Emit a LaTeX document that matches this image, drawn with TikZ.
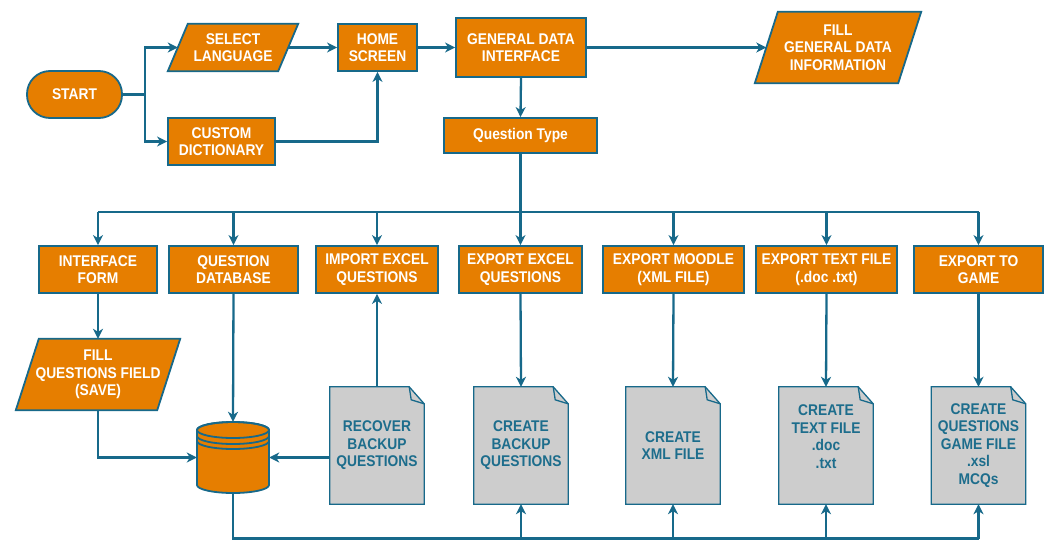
\documentclass[tikz,border=0pt]{standalone}
\usepackage{fontspec}
\setmainfont{Liberation Sans}[FakeStretch=0.89]
\usetikzlibrary{arrows.meta,calc,backgrounds}
\definecolor{orng}{HTML}{E67E00}
\definecolor{edge}{HTML}{17698A}
\definecolor{wire}{HTML}{17698A}
\definecolor{docgray}{HTML}{CDCDCD}
\definecolor{doctxt}{HTML}{1D6D8C}
\tikzset{
  lbl/.style={font=\bfseries\fontsize{15.5pt}{17.5pt}\selectfont, align=center, inner sep=0pt},
  box/.style={lbl, draw=edge, line width=1.8pt, fill=orng, text=white},
  term/.style={box, rounded corners=23pt},
  ptext/.style={lbl, text=white},
  pgramfill/.style={draw=edge, line width=1.8pt, fill=orng, line join=miter},
  doc/.style={lbl, text=doctxt, minimum width=94pt, minimum height=117pt},
  docfill/.style={draw=edge, line width=1.3pt, fill=docgray},
  cylfill/.style={draw=edge, line width=1.8pt, fill=orng},
  conn/.style={draw=wire, line width=2.3pt},
  arr/.style={conn, -{Stealth[length=10pt,width=10pt,inset=3pt]}}
}
\newcommand\pgramshape[2]{\filldraw[pgramfill] ($(#1.north west)+(#2,0)$) -- (#1.north east) -- ($(#1.south east)-(#2,0)$) -- (#1.south west) -- cycle;}
\newcommand\docshape[1]{%
  \filldraw[docfill] (#1.north west) -- ($(#1.north east)+(-15,0)$) -- ($(#1.north east)+(0,17)$) -- (#1.south east) -- (#1.south west) -- cycle;
  \draw[docfill, fill=none] ($(#1.north east)+(-15,0)$) -- ($(#1.north east)+(-13,13)$) -- ($(#1.north east)+(0,17)$);}
\begin{document}
\begin{tikzpicture}[x=1pt,y=-1pt]
\useasboundingbox (0,0) rectangle (1051,541);

% top part
\node[term, minimum width=95pt, minimum height=47pt] (start) at (74.5,94.5) {START};
\node[ptext, minimum width=130pt, minimum height=47pt] (sl) at (233,47.5) {SELECT\\LANGUAGE};
\node[box, minimum width=79pt, minimum height=47pt] (home) at (377.5,47.5) {HOME\\SCREEN};
\node[box, minimum width=107pt, minimum height=47pt] (cd) at (221.5,141.5) {CUSTOM\\DICTIONARY};
\node[box, minimum width=130pt, minimum height=59pt] (gdi) at (521,47.5) {GENERAL DATA\\INTERFACE};
\node[ptext, minimum width=166pt, minimum height=71pt] (fgdi) at (838,47.5) {FILL\\GENERAL DATA\\INFORMATION};
\node[box, minimum width=153pt, minimum height=35pt] (qt) at (520.5,135.5) {Question Type};

% second row
\node[box, minimum width=118pt, minimum height=47pt] (iform) at (98,269.5) {INTERFACE\\FORM};
\node[box, minimum width=129pt, minimum height=47pt] (qd) at (233.5,269.5) {QUESTION\\DATABASE};
\node[box, minimum width=122pt, minimum height=47pt] (ie) at (377,269.5) {IMPORT EXCEL\\QUESTIONS};
\node[box, minimum width=123pt, minimum height=47pt] (ee) at (520.5,269.5) {EXPORT EXCEL\\QUESTIONS};
\node[box, minimum width=141pt, minimum height=47pt] (em) at (673.5,269.5) {EXPORT MOODLE\\(XML FILE)};
\node[box, minimum width=141pt, minimum height=47pt] (et) at (826.5,269.5) {EXPORT TEXT FILE\\(.doc .txt)};
\node[box, minimum width=129pt, minimum height=47pt] (eg) at (978.5,269.5) {EXPORT TO\\GAME};

% lower part
\node[ptext, minimum width=164pt, minimum height=71pt] (fqf) at (98,374.5) {FILL\\QUESTIONS FIELD\\(SAVE)};
\node[inner sep=0pt, minimum width=72pt, minimum height=71pt] (db) at (233,457.5) {};
\node[doc] (rec) at (377,445.5) {RECOVER\\BACKUP\\QUESTIONS};
\node[doc] (cb) at (521,445.5) {CREATE\\BACKUP\\QUESTIONS};
\node[doc] (cx) at (673,445.5) {CREATE\\XML FILE};
\node[doc] (ct) at (826,445.5) {CREATE\\TEXT FILE\\.doc\\.txt\\\mbox{}};
\node[doc] (cg) at (978.5,445.5) {CREATE\\QUESTIONS\\GAME FILE\\.xsl\\MCQs};

\begin{pgfonlayer}{background}
  \pgramshape{sl}{20}
  \pgramshape{fgdi}{23}
  \pgramshape{fqf}{23}
  \docshape{rec}
  \docshape{cb}
  \docshape{cx}
  \docshape{ct}
  \docshape{cg}
  % database cylinder
  \filldraw[cylfill] (197,430) -- (197,485) arc[start angle=180,end angle=0,x radius=36,y radius=8]
     -- (269,430) arc[start angle=0,end angle=-180,x radius=36,y radius=8] -- cycle;
  \draw[cylfill, fill=none] (233,430) ellipse[x radius=36,y radius=8];
  \draw[cylfill, fill=none] (197,436) arc[start angle=180,end angle=0,x radius=36,y radius=8];
  \draw[cylfill, fill=none] (197,441) arc[start angle=180,end angle=0,x radius=36,y radius=8];
\end{pgfonlayer}

% connectors
\coordinate (split) at (145,94.5);
\draw[conn] (start.east) -- (split);
\draw[arr] (split) |- ($(sl.west)+(10,0)$);
\draw[arr] (split) |- (cd.west);
\draw[arr] ($(sl.east)+(-10,0)$) -- (home.west);
\draw[arr] (cd.east) -| (home.south);
\draw[arr] (home.east) -- (gdi.west);
\draw[arr] (gdi.east) -- ($(fgdi.west)+(11.5,0)$);
\draw[arr] (gdi.south) -- (qt.north);

\coordinate (bus) at (520.5,212);
\draw[conn] (qt.south) -- (bus);
\draw[conn] (iform.north |- bus) -- (eg.north |- bus);
\foreach \n in {iform,qd,ie,ee,em,et,eg}{\draw[arr] (\n.north |- bus) -- (\n.north);}

\draw[arr] (iform.south) -- (fqf.north);
\draw[arr] (fqf.south) |- (db.west);
\draw[arr] (qd.south) -- (db.north);
\draw[arr] (db.east -| rec.west) -- (db.east);
\draw[arr] (rec.north) -- (ie.south);
\draw[arr] (ee.south) -- (cb.north);
\draw[arr] (em.south) -- (cx.north);
\draw[arr] (et.south) -- (ct.north);
\draw[arr] (eg.south) -- (cg.north);

\coordinate (bbus) at (233,538.5);
\draw[conn] (db.south) -- (bbus) -- (cg.south |- bbus);
\foreach \n in {cb,cx,ct,cg}{\draw[arr] (\n.south |- bbus) -- (\n.south);}
\end{tikzpicture}
\end{document}
